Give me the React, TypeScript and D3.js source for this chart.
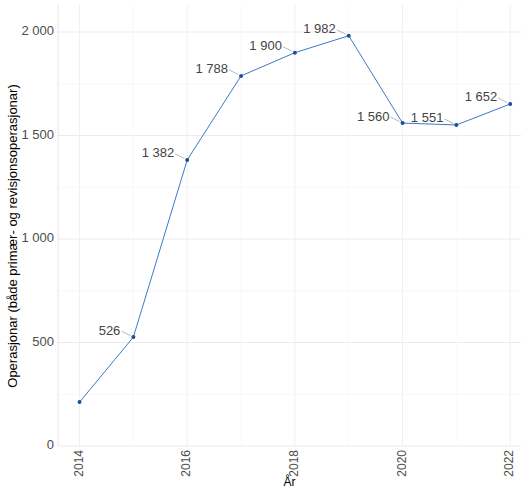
import * as d3 from "d3";

const years = [2014, 2015, 2016, 2017, 2018, 2019, 2020, 2021, 2022];
const values = [212, 526, 1382, 1788, 1900, 1982, 1560, 1551, 1652];
const showLabel = [false, true, true, true, true, true, true, true, true];
const yTicks = [0, 500, 1000, 1500, 2000];
const xTicks = [2014, 2016, 2018, 2020, 2022];

const fmt = (v: number) => d3.format(",")(v).replace(/,/g, "\u00a0");

export default function App() {
  const width = 529;
  const height = 489;
  const m = { left: 58, right: 8, top: 5, bottom: 42 };
  const x = d3.scaleLinear().domain([2013.6, 2022.2]).range([m.left, width - m.right]);
  const y = d3.scaleLinear().domain([0, 2000]).range([446, 32]);
  const line = d3.line<number>().x((_, i) => x(years[i])).y((d) => y(d));
  const font = "Liberation Sans, Arial, sans-serif";

  return (
    <svg width={width} height={height} style={{ position: "absolute", left: 0, top: 0 }} fontFamily={font}>
      <rect width={width} height={height} fill="#fff" />
      {d3.range(0, 2250, 250).map((t) => (
        <line key={t} x1={m.left} x2={width - m.right} y1={y(t)} y2={y(t)}
          stroke={t % 500 === 0 ? "#ebebeb" : "#f3f3f3"} strokeWidth={t % 500 === 0 ? 1 : 0.6} />
      ))}
      {d3.range(2014, 2023).map((t) => (
        <line key={t} x1={x(t)} x2={x(t)} y1={m.top} y2={y(0)}
          stroke={t % 2 === 0 ? "#f0f0f0" : "#f6f6f6"} strokeWidth={t % 2 === 0 ? 1 : 0.6} />
      ))}
      <line x1={m.left} x2={m.left} y1={m.top} y2={y(0)} stroke="#e6e6e6" />
      <path d={line(values) ?? undefined} fill="none" stroke="#3a7bc4" strokeWidth={1} />
      {values.map((v, i) => (
        <circle key={i} cx={x(years[i])} cy={y(v)} r={2} fill="#1c4f94" />
      ))}
      {values.map((v, i) =>
        showLabel[i] ? (
          <g key={i}>
            <line x1={x(years[i]) - 3} y1={y(v) - 1.5} x2={x(years[i]) - 12} y2={y(v) - 6} stroke="#888" strokeWidth={0.6} />
            <text x={x(years[i]) - 13} y={y(v) - 6} textAnchor="end" dominantBaseline="middle" fontSize={13} fill="#444">
              {fmt(v)}
            </text>
          </g>
        ) : null
      )}
      {yTicks.map((t) => (
        <text key={t} x={m.left - 4} y={y(t)} textAnchor="end" dominantBaseline="middle" fontSize={13} fill="#4d4d4d">
          {fmt(t)}
        </text>
      ))}
      {xTicks.map((t) => (
        <text key={t} transform={`translate(${x(t)},${450}) rotate(-90)`} textAnchor="end" dominantBaseline="middle" fontSize={12} fill="#4d4d4d">
          {t}
        </text>
      ))}
      <text x={(m.left + width - m.right) / 2} y={486} textAnchor="middle" fontSize={12} fill="#000">År</text>
      <text transform={`translate(14,${(m.top + 447) / 2 + 10}) rotate(-90)`} textAnchor="middle" dominantBaseline="middle" fontSize={13} fill="#000">
        Operasjonar (både primær- og revisjonsoperasjonar)
      </text>
    </svg>
  );
}
